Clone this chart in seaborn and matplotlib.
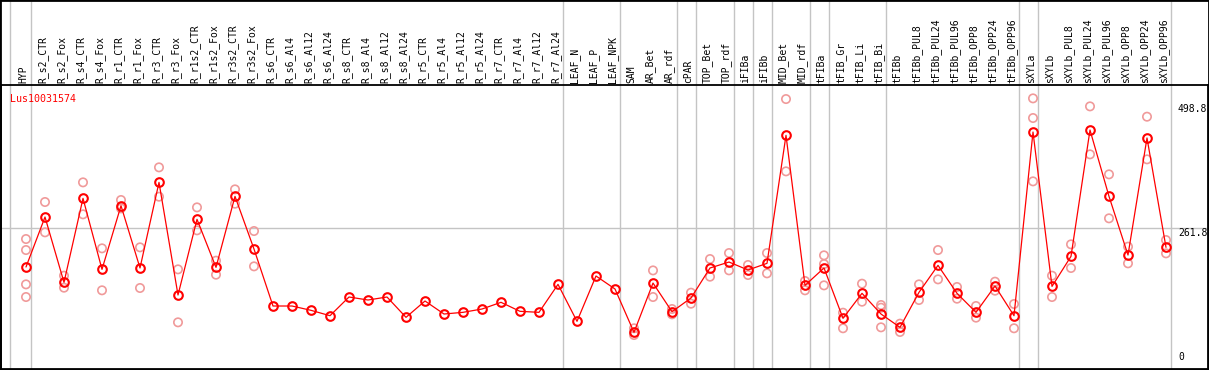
import pandas as pd
import matplotlib.pyplot as plt
import seaborn as sns
from matplotlib.patches import Rectangle
import matplotlib.transforms as mtransforms

# datos del perfil de expresion
gene = "Lus10031574"

samples = [
    "HYP", "R_s2_CTR", "R_s2_Fox", "R_s4_CTR", "R_s4_Fox", "R_r1_CTR", "R_r1_Fox",
    "R_r3_CTR", "R_r3_Fox", "R_r1s2_CTR", "R_r1s2_Fox", "R_r3s2_CTR", "R_r3s2_Fox",
    "R_s6_CTR", "R_s6_Al4", "R_s6_Al12", "R_s6_Al24", "R_s8_CTR", "R_s8_Al4",
    "R_s8_Al12", "R_s8_Al24", "R_r5_CTR", "R_r5_Al4", "R_r5_Al12", "R_r5_Al24",
    "R_r7_CTR", "R_r7_Al4", "R_r7_Al12", "R_r7_Al24", "LEAF_N", "LEAF_P", "LEAF_NPK",
    "SAM", "AR_Bet", "AR_rdf", "cPAR", "TOP_Bet", "TOP_rdf", "iFIBa", "iFIBb",
    "MID_Bet", "MID_rdf", "tFIBa", "tFIB_Gr", "tFIB_Li", "tFIB_Bi", "tFIBb",
    "tFIBb_PUL8", "tFIBb_PUL24", "tFIBb_PUL96", "tFIBb_OPP8", "tFIBb_OPP24",
    "tFIBb_OPP96", "sXYLa", "sXYLb", "sXYLb_PUL8", "sXYLb_PUL24", "sXYLb_PUL96",
    "sXYLb_OPP8", "sXYLb_OPP24", "sXYLb_OPP96"
]

means = [
    188.4, 283.3, 159.2, 318.7, 183.9, 304.8, 186.5, 349.1, 135.2, 278.9, 187.7,
    322.5, 222.5, 114.3, 114.3, 106.1, 95.9, 131.4, 125.7, 131.4, 92.8, 123.8,
    99.1, 102.3, 108.6, 121.3, 104.2, 102.3, 155.4, 85.2, 171.3, 146.6, 64.3,
    157.9, 103.5, 129.5, 186.5, 197.8, 182.7, 195.3, 438.4, 153.5, 186.5, 90.9,
    138.4, 99.1, 73.8, 140.3, 191.5, 138.4, 102.3, 152.3, 95.9, 444.7, 151.6,
    208.6, 448.5, 322.5, 211.1, 433.4, 225.7
]

reps = [
    [241.5, 220.6, 155.4, 131.4], [311.8, 254.2], [171.9, 149.1], [349.1, 288.4],
    [223.8, 144.1], [315.6, 299.7], [225.7, 148.5], [377.6, 321.9], [183.9, 83.3],
    [301.6, 258.0], [200.4, 173.8], [335.8, 308.6], [256.7, 189.6],
    [], [], [], [], [], [], [], [], [], [], [], [], [], [], [], [], [], [], [],
    [72.0, 59.2], [181.9, 131.4], [108.6, 98.5], [139.6, 118.7], [203.5, 170.0],
    [214.9, 182.0], [192.2, 173.2], [214.9, 176.3], [507.3, 370.0], [161.8, 144.1],
    [210.5, 194.0, 153.5], [101.6, 72.0], [156.7, 122.5], [116.2, 111.1, 73.8],
    [80.8, 65.0], [155.4, 125.7], [220.6, 164.9], [150.4, 128.2], [114.3, 92.2],
    [160.5, 143.4], [118.1, 72.0], [508.6, 471.3, 351.0], [171.9, 131.4],
    [231.4, 186.5], [493.4, 402.3], [364.3, 280.8], [227.0, 195.3], [473.8, 392.8],
    [239.6, 214.3]
]

# ultimo elemento de cada grupo
group_ends = ["HYP", "R_r7_Al24", "LEAF_NPK", "AR_rdf", "cPAR", "TOP_rdf", "iFIBa",
              "iFIBb", "MID_rdf", "tFIBa", "tFIB_Bi", "tFIBb_OPP96", "sXYLa",
              "sXYLb_OPP96"]

y_marks = [0, 261.8, 498.8]

df = pd.DataFrame({"pos": range(len(samples)), "muestra": samples, "media": means})
rows = []
for i, r in enumerate(reps):
    for v in r:
        rows.append({"pos": i, "valor": v})
df_rep = pd.DataFrame(rows)

sns.set_style("white")
plt.rcParams["font.family"] = ["DejaVu Sans Mono"]

W, H = 1209, 370
fig = plt.figure(figsize=(W / 100, H / 100), dpi=100)
ax = fig.add_axes([1 / W, 1 / H, 1207 / W, 284 / H])

sns.scatterplot(data=df_rep, x="pos", y="valor", ax=ax, marker="o", s=36,
                facecolor="none", edgecolor="#f09a9a", linewidth=1.2, zorder=3)
sns.lineplot(data=df, x="pos", y="media", ax=ax, color="red", linewidth=0.9,
             marker="o", markersize=6.2, markerfacecolor="none",
             markeredgecolor="red", markeredgewidth=1.5, zorder=4)

ax.set_xlim((1 - 26) / 19, (1208 - 26) / 19)
ax.set_ylim((366.2 - 369) / 0.5266, (366.2 - 85) / 0.5266)
ax.set_xticks([])
ax.set_yticks([])
ax.set_xlabel("")
ax.set_ylabel("")
for s in ax.spines.values():
    s.set_color("black")
    s.set_linewidth(1.3)

# lineas de grupos (llegan hasta arriba de la figura)
sep = [-0.83] + [samples.index(g) + 0.25 for g in group_ends]
for x in sep:
    ax.axvline(x, ymin=0, ymax=369 / 284, color="#c4c4c4", linewidth=1,
               clip_on=False, zorder=1)
ax.axhline(261.8, color="#c4c4c4", linewidth=1, zorder=1)

trans = mtransforms.blended_transform_factory(ax.transData, ax.transAxes)
for i, name in enumerate(samples):
    ax.text(i - 0.13, 1 + 2 / 284, name, transform=trans, rotation=90,
            ha="center", va="bottom", fontsize=7, color="black")

ax.text(9 / 1207, 1 - 9 / 284, gene, transform=ax.transAxes, color="red",
        fontsize=7.2, ha="left", va="top")

trans2 = mtransforms.blended_transform_factory(ax.transAxes, ax.transData)
for v in y_marks:
    lbl = "0" if v == 0 else f"{v:.1f}"
    va = "bottom" if v == 0 else "top"
    yy = 8 if v == 0 else v
    ax.text(1177 / 1207, yy, lbl, transform=trans2, fontsize=7, ha="left",
            va=va, color="black")

fig.patches.append(Rectangle((0, 0), 1, 1, transform=fig.transFigure,
                             fill=False, edgecolor="black", linewidth=2))

fig.savefig("out.png", dpi=100)
